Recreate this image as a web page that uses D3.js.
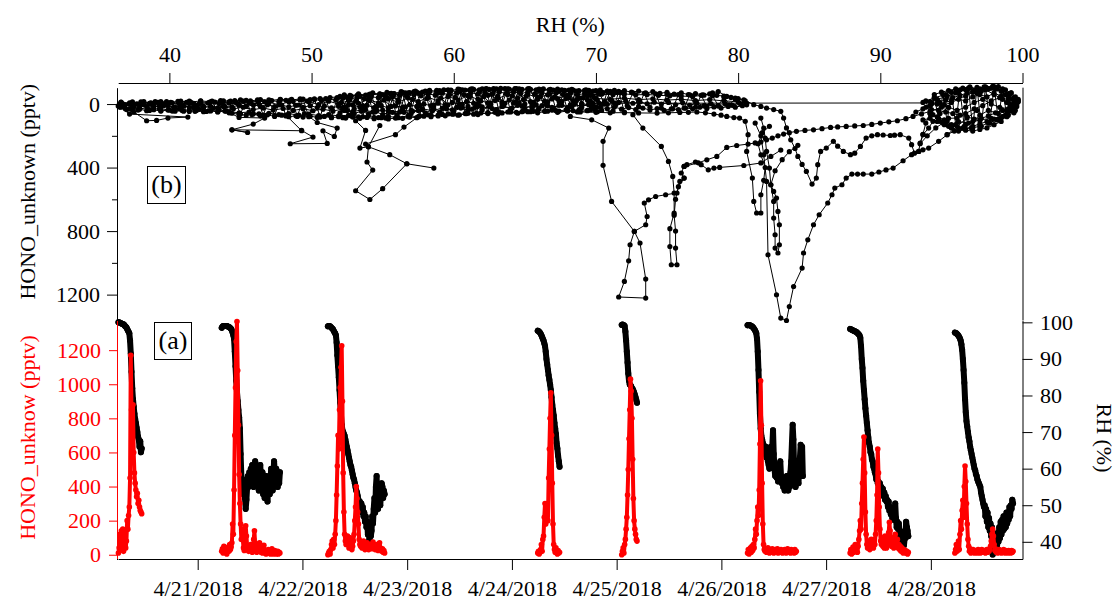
<!DOCTYPE html>
<html>
<head>
<meta charset="utf-8">
<script src="https://cdn.jsdelivr.net/npm/d3@7"></script>
<style>
  body { margin: 0; background: #fff; }
  svg { display: block; }
</style>
</head>
<body>
<svg id="chart" width="1120" height="604"></svg>
<script>
// ---------- Panel (a): 10-minute HONO_unknown and RH during each measurement period ----------
const periodStarts = ["2018-04-20T05:50", "2018-04-21T05:30", "2018-04-22T05:50", "2018-04-24T05:55",
                      "2018-04-25T01:10", "2018-04-26T06:00", "2018-04-27T05:30", "2018-04-28T05:30"];
const stepMinutes = 10;

const rh0420 = [100,100,99.9,99.8,99.7,99.6,99.5,99.5,99.3,99.0,98.8,98.6,98.2,97.8,97.4,97.0,95.0,91.5,86.5,82.0,79.0,77.0,75.0,73.6,72.5,71.2,70.0,68.7,68.0,66.0,67.5,64.5,65.5];
const hono0420 = [10,40,120,30,140,60,150,20,90,140,40,80,200,150,230,280,450,1170,850,700,880,600,480,420,380,340,360,300,320,280,260,250,240];

const rh0421 = [98.5,98.8,99,99,99,99,99,99,98.9,98.8,98.7,98.6,98.4,98.2,97.8,97.2,96.5,95.5,92,88,84,81,78.5,76,74,71,64,58,55,57,53,56,52,49,51.5,55,58,55,59,56,60,
                57,61,58,55,59,62,58,56,60,57,54,58,61,57,55,59,53,56,52,55,58,54,51,55,57,53,56,60,57,54,58,62,59,56,60,57,55,58,56,59];
const hono0421 = [20,35,10,50,45,15,25,5,30,40,20,60,30,45,70,180,120,380,700,980,1250,1368,1080,760,470,300,180,90,
                  150,90,40,25,60,170,110,50,30,20,40,25,60,30,15,20,90,140,60,25,15,30,20,45,70,30,15,25,10,35,55,20,10,5,25,15,30,20,10,5,20,35,15,5,10,25,15,5,10,20,5,15,10];

const rh0422 = [98.9,99,99,98.9,98.7,98.5,98.3,98.1,97.7,97.3,97,96.5,94.5,91,88,85,81.5,78,74.5,72,70.5,70,69.5,69,68,67,66,65,64,63,
                62,61,60.5,59.5,58.5,57.5,57,56,55,54,53.5,52.5,51.5,50,51,49,50.5,48,49.5,47,48,45.5,47,44,45.5,42,44.5,40.5,43.5,41.5,
                43,47,45,49,52,48,55,58,51,49,52,54,50,53,56,55,52,54,53];
const hono0422 = [0,10,20,5,30,60,80,40,90,60,120,200,350,520,700,620,850,980,1100,1226,900,480,250,120,80,60,90,110,70,40,
                  70,100,60,30,50,80,120,200,280,400,330,250,180,90,60,50,70,40,60,80,50,30,60,40,70,50,30,55,45,60,
                  35,50,75,40,55,30,45,60,40,25,55,70,40,30,20,35,15,25,10];

const rh0424 = [97.7,97.6,97.4,97.2,96.9,96.5,96,95.5,95,94.3,93.5,92,90,88.5,87,85.5,84.3,83,81.5,79.5,77.5,76,74.5,72.5,71,69.5,67,65.5,63.5,62,60.5];
const hono0424 = [10,20,5,15,30,60,20,90,110,220,300,180,260,300,200,450,620,800,950,700,420,180,60,30,15,40,20,5,25,10,15];

const rh0425 = [99.3,99.4,99.3,99.2,99,97.5,95,92,89,86,84,83,82.8,82.5,82,81.8,81.3,80.8,80.2,79.5,78.8,78];
const hono0425 = [0,20,40,10,60,90,150,220,350,500,680,850,1030,960,800,560,330,200,150,120,90,80];

const rh0426 = [99.2,99.3,99.3,99.2,99.1,99,98.9,98.7,98.5,98.2,97.9,97.5,97,95.5,92,87,81,75,71,69,
                68,67,66.5,65,64,66,63,65,62,61,60,63,66,63,66,70.5,64,60,58,60,
                57.5,59,56.5,58,61,62,58,56,57.5,55,56.5,54,57,55,58,56,54,57,55,59,
                62,67,72,68,60,57,55,58,61,59,56,60,63,66.5,60,66,58];
const hono0426 = [10,30,5,20,40,15,50,25,60,40,90,150,120,200,280,230,380,650,1020,760,
                  420,180,60,30,20,35,15,25,40,20,10,30,25,15,35,20,10,25,30,15,
                  20,35,10,25,20,15,30,25,10,20,15,30,25,10,20,35,15,25,20,10,
                  30,15,25,20,10,30,15,20];

const rh0427 = [98.2,98.1,98,97.9,97.8,97.7,97.6,97.5,97.4,97.3,97.1,96.9,96.7,96.4,95.8,93.5,90,87.5,84,81.5,79,
                76.5,74.5,72.5,70.5,68.5,67,66,64.5,64,62.5,62,60.5,60,59,58.5,57,58,56,56.5,55,
                56,54,55,53.5,54.5,52.5,53.5,51.5,52.5,51,51.5,49.5,51,48.5,49.5,47.5,49,46.5,48,46,
                47.5,50.5,46.5,44,45.5,43.5,45,42,43,40.5,42,39.5,40.5,39,41,41,45.5,44,43,41.5];
const hono0427 = [10,30,5,25,45,15,30,60,20,40,15,50,90,140,200,150,300,420,560,690,
                  480,250,120,60,40,80,50,30,60,90,50,70,40,90,60,120,200,350,620,480,
                  280,150,80,60,100,50,80,40,110,70,40,90,60,130,190,140,80,50,100,60,
                  40,80,120,70,50,90,40,60,30,50,20,40,25,10,30,15,25,10,20,5,15];

const rh0428 = [97.2,97.1,97,96.8,96.6,96.3,96,95.6,95,94,92.5,90,87,83.5,79,75.5,73,71.5,70,68.5,67.5,
                66,65,64,63,62,61,60,59.5,58.5,58,57,56.5,56,55.5,55,53.5,52.5,51.5,50.5,49.5,
                50,47,49,45.5,48,44,46.5,43,45,41.5,44,36.5,42,39,41.5,38.5,40.5,39,42.5,40,
                44,41,45.5,42,46,43,47,43.5,46.5,44,48,45,47.5,46,49.5,47,50,49,51.5,50.5];
const hono0428 = [10,30,60,20,40,80,30,120,200,150,260,320,220,400,520,430,300,180,90,50,
                  20,35,10,25,15,30,20,10,25,15,20,10,30,15,25,10,20,30,15,25,
                  15,25,10,20,30,15,25,20,35,50,80,120,150,110,60,25,35,15,25,10,
                  20,30,15,25,10,20,15,30,20,10,25,15,20,10,25,15,20,10,25,15,20];

const rhPeriods = [rh0420, rh0421, rh0422, rh0424, rh0425, rh0426, rh0427, rh0428];
const honoPeriods = [hono0420, hono0421, hono0422, hono0424, hono0425, hono0426, hono0427, hono0428];

// ---------- Panel (b): HONO_unknown against RH, [RH %, HONO pptv] ----------
const bandLower = [[36.5,19],[37.2,30],[37.9,25],[38.6,35],[39.3,28],[40.0,38],[40.7,30],[41.4,40],[42.1,33],[42.8,42],[43.5,36],[44.2,48],[44.9,55],[45.6,50],[46.3,62],[47.0,58],[47.7,66],[48.4,60],[49.1,70],[49.8,64],[50.5,72],[51.2,66],[51.9,75],[52.6,70],[53.3,80],[54.0,72],[54.7,85],[55.4,78],[56.1,86],[56.8,74],[57.5,80],[58.2,68],[58.9,75],[59.6,62],[60.3,70],[61.0,58],[61.7,66],[62.4,55],[63.1,62],[63.8,50],[64.5,58],[65.2,48],[65.9,55],[66.6,45],[67.3,52],[68.0,44],[68.7,50],[69.4,42],[70.1,48]];
const bandUpper = [[36.6,-10],[37.3,-5],[38.0,-14],[38.7,-8],[39.4,-16],[40.1,-10],[40.8,-18],[41.5,-12],[42.2,-20],[42.9,-14],[43.6,-22],[44.3,-18],[45.0,-26],[45.7,-20],[46.4,-28],[47.1,-22],[47.8,-30],[48.5,-25],[49.2,-32],[49.9,-28],[50.6,-35],[51.3,-40],[52.0,-48],[52.7,-55],[53.4,-50],[54.1,-62],[54.8,-58],[55.5,-66],[56.2,-60],[56.9,-72],[57.6,-68],[58.3,-78],[59.0,-72],[59.7,-84],[60.4,-78],[61.1,-88],[61.8,-82],[62.5,-92],[63.2,-86],[63.9,-94],[64.6,-88],[65.3,-92],[66.0,-84],[66.7,-90],[67.4,-82],[68.1,-88],[68.8,-80],[69.5,-86],[70.2,-78]];
const bandMidA = [[36.8,8],[37.5,15],[38.2,5],[38.9,18],[39.6,10],[40.3,20],[41.0,12],[41.7,22],[42.4,14],[43.1,25],[43.8,16],[44.5,30],[45.2,20],[45.9,35],[46.6,25],[47.3,38],[48.0,28],[48.7,40],[49.4,30],[50.1,42],[50.8,32],[51.5,45],[52.2,30],[52.9,48],[53.6,35],[54.3,50],[55.0,38],[55.7,52],[56.4,40],[57.1,45],[57.8,30],[58.5,42],[59.2,25],[59.9,36],[60.6,20],[61.3,32],[62.0,18],[62.7,28],[63.4,15],[64.1,25],[64.8,12],[65.5,22],[66.2,10],[66.9,20],[67.6,8],[68.3,18],[69.0,5],[69.7,15],[70.4,2]];
const bandMidB = [[36.5,0],[37.2,-2],[37.9,4],[38.6,-4],[39.3,2],[40.0,-6],[40.7,0],[41.4,-8],[42.1,-2],[42.8,-10],[43.5,-4],[44.2,-6],[44.9,2],[45.6,-10],[46.3,0],[47.0,-12],[47.7,5],[48.4,-14],[49.1,6],[49.8,-16],[50.5,4],[51.2,-18],[51.9,0],[52.6,-22],[53.3,-5],[54.0,-28],[54.7,-8],[55.4,-32],[56.1,-12],[56.8,-38],[57.5,-15],[58.2,-42],[58.9,-20],[59.6,-48],[60.3,-25],[61.0,-52],[61.7,-30],[62.4,-55],[63.1,-35],[63.8,-60],[64.5,-38],[65.2,-62],[65.9,-40],[66.6,-58],[67.3,-35],[68.0,-55],[68.7,-30],[69.4,-50],[70.1,-25]];
const bandMidC = [[36.7,-3],[37.2,-8],[37.7,-2],[38.2,-9],[38.7,-4],[39.2,-10],[39.7,-3],[40.2,-8],[40.7,-5],[41.2,-11],[41.7,-4],[42.2,-9],[42.7,-6],[43.2,-12],[43.7,-7],[44.2,-14],[44.7,-9],[45.2,-18],[45.7,-12],[46.2,-20],[46.7,-14],[47.2,-22],[47.7,-15],[48.2,-24],[48.7,-17],[49.2,-26],[49.7,-19],[50.2,-28],[50.7,-22],[51.2,-30],[51.7,-26],[52.2,-36],[52.7,-30],[53.2,-42],[53.7,-35],[54.2,-46],[54.7,-40],[55.2,-50],[55.7,-44],[56.2,-55],[56.7,-48],[57.2,-60],[57.7,-52],[58.2,-64],[58.7,-56],[59.2,-68],[59.7,-58],[60.2,-70],[60.7,-60],[61.2,-72],[61.7,-62],[62.2,-74],[62.7,-64],[63.2,-76],[63.7,-66],[64.2,-78],[64.7,-66],[65.2,-75],[65.7,-64],[66.2,-72],[66.7,-62],[67.2,-70],[67.7,-60],[68.2,-68],[68.7,-58],[69.2,-66],[69.7,-56],[70.2,-62]];
const bandMidD = [[36.9,30],[37.4,38],[37.9,32],[38.4,42],[38.9,36],[39.4,44],[39.9,38],[40.4,45],[40.9,40],[41.4,47],[41.9,41],[42.4,48],[42.9,43],[43.4,50],[43.9,44],[44.4,58],[44.9,64],[45.4,70],[45.9,62],[46.4,74],[46.9,68],[47.4,78],[47.9,70],[48.4,80],[48.9,74],[49.4,82],[49.9,76],[50.4,84],[50.9,78],[51.4,86],[51.9,80],[52.4,88],[52.9,82],[53.4,90],[53.9,84],[54.4,92],[54.9,86],[55.4,94],[55.9,88],[56.4,90],[56.9,82],[57.4,86],[57.9,76],[58.4,80],[58.9,70],[59.4,74],[59.9,64],[60.4,68],[60.9,60],[61.4,64],[61.9,56],[62.4,60],[62.9,52],[63.4,56],[63.9,48],[64.4,52],[64.9,44],[65.4,48],[65.9,40],[66.4,46],[66.9,38],[67.4,44],[67.9,36],[68.4,42],[68.9,34],[69.4,40],[69.9,32]];
const bandTopEdge = [[51.8,-40],[52.3,-58],[52.8,-50],[53.3,-64],[53.8,-56],[54.3,-70],[54.8,-62],[55.3,-74],[55.8,-66],[56.3,-78],[56.8,-70],[57.3,-82],[57.8,-76],[58.3,-86],[58.8,-80],[59.3,-90],[59.8,-84],[60.3,-94],[60.8,-88],[61.3,-96],[61.8,-90],[62.3,-98],[62.8,-92],[63.3,-99],[63.8,-93],[64.3,-98],[64.8,-92],[65.3,-97],[65.8,-90],[66.3,-95],[66.8,-88],[67.3,-94],[67.8,-86],[68.3,-92],[68.8,-85],[69.3,-90],[69.8,-82],[70.3,-88],[70.8,-80],[71.3,-86]];
const bandMidE = [[36.4,12],[36.9,5],[37.4,14],[37.9,8],[38.4,16],[38.9,9],[39.4,18],[39.9,10],[40.4,19],[40.9,12],[41.4,20],[41.9,13],[42.4,22],[42.9,14],[43.4,24],[43.9,15],[44.4,18],[44.9,8],[45.4,15],[45.9,5],[46.4,14],[46.9,4],[47.4,16],[47.9,6],[48.4,18],[48.9,8],[49.4,20],[49.9,10],[50.4,22],[50.9,12],[51.4,24],[51.9,14],[52.4,18],[52.9,6],[53.4,20],[53.9,8],[54.4,22],[54.9,10],[55.4,24],[55.9,12],[56.4,20],[56.9,5],[57.4,15],[57.9,0],[58.4,10],[58.9,-5],[59.4,5],[59.9,-10],[60.4,0],[60.9,-15],[61.4,-5],[61.9,-20],[62.4,-8],[62.9,-22],[63.4,-10],[63.9,-25],[64.4,-12],[64.9,-28],[65.4,-15],[65.9,-30],[66.4,-18],[66.9,-32],[67.4,-20],[67.9,-35],[68.4,-22],[68.9,-38],[69.4,-25],[69.9,-40]];
const bandMidF = [[52.1,-10],[52.6,5],[53.1,-18],[53.6,10],[54.1,-22],[54.6,12],[55.1,-25],[55.6,15],[56.1,-28],[56.6,18],[57.1,-30],[57.6,10],[58.1,-35],[58.6,8],[59.1,-38],[59.6,5],[60.1,-42],[60.6,2],[61.1,-45],[61.6,0],[62.1,-48],[62.6,-2],[63.1,-50],[63.6,-5],[64.1,-52],[64.6,-8],[65.1,-50],[65.6,-10],[66.1,-48],[66.6,-12],[67.1,-45],[67.6,-15],[68.1,-42],[68.6,-18],[69.1,-40],[69.6,-20]];
const bandMidG = [[52.0,55],[52.5,40],[53.0,60],[53.5,45],[54.0,62],[54.5,48],[55.0,66],[55.5,50],[56.0,68],[56.5,52],[57.0,60],[57.5,40],[58.0,55],[58.5,35],[59.0,50],[59.5,30],[60.0,45],[60.5,25],[61.0,40],[61.5,20],[62.0,38],[62.5,15],[63.0,35],[63.5,12],[64.0,32],[64.5,8],[65.0,30],[65.5,5],[66.0,28],[66.5,2],[67.0,25],[67.5,0],[68.0,22],[68.5,-2],[69.0,20],[69.5,-5],[70.0,18]];
const bandSwingA = [[52.2,20],[52.6,-40],[53.0,30],[53.4,-50],[53.8,35],[54.2,-55],[54.6,40],[55.0,-60],[55.4,45],[55.8,-65],[56.2,50],[56.6,-70],[57.0,40],[57.4,-75],[57.8,35],[58.2,-80],[58.6,30],[59.0,-85],[59.4,25],[59.8,-88],[60.2,20],[60.6,-90],[61.0,15],[61.4,-92],[61.8,10],[62.2,-94],[62.6,5],[63.0,-95],[63.4,0],[63.8,-96],[64.2,-5],[64.6,-95],[65.0,0],[65.4,-93],[65.8,5],[66.2,-90],[66.6,10],[67.0,-88],[67.4,8],[67.8,-85],[68.2,5],[68.6,-82],[69.0,0],[69.4,-80],[69.8,-5],[70.2,-78],[70.6,0],[71.0,-75],[71.4,5],[71.8,-72],[72.2,10],[72.6,-70],[73.0,15],[73.4,-68],[73.8,20],[74.2,-65],[74.6,25],[75.0,-62],[75.4,30],[75.8,-60],[76.2,25],[76.6,-58],[77.0,20],[77.4,-55],[77.8,15],[78.2,-52],[78.6,10],[79.0,-45],[79.4,5],[79.8,-35],[80.2,0]];
const bandSwingB = [[36.6,-12],[37.0,35],[37.4,-14],[37.8,38],[38.2,-15],[38.6,40],[39.0,-16],[39.4,42],[39.8,-16],[40.2,44],[40.6,-17],[41.0,45],[41.4,-18],[41.8,46],[42.2,-18],[42.6,47],[43.0,-19],[43.4,48],[43.8,-20],[44.2,55],[44.6,-22],[45.0,62],[45.4,-24],[45.8,66],[46.2,-26],[46.6,70],[47.0,-27],[47.4,72],[47.8,-28],[48.2,75],[48.6,-30],[49.0,78],[49.4,-31],[49.8,80],[50.2,-32],[50.6,82],[51.0,-34],[51.4,84],[51.8,-36],[52.2,86]];
const bandSwingC = [[52.4,-45],[52.8,75],[53.2,-55],[53.6,80],[54.0,-58],[54.4,85],[54.8,-64],[55.2,88],[55.6,-68],[56.0,85],[56.4,-74],[56.8,80],[57.2,-78],[57.6,75],[58.0,-82],[58.4,70],[58.8,-86],[59.2,65],[59.6,-90],[60.0,62],[60.4,-92],[60.8,60],[61.2,-94],[61.6,58],[62.0,-96],[62.4,55],[62.8,-97],[63.2,52],[63.6,-98],[64.0,50],[64.4,-97],[64.8,48],[65.2,-96],[65.6,46],[66.0,-94],[66.4,44],[66.8,-92],[67.2,42],[67.6,-90],[68.0,40],[68.4,-88],[68.8,38],[69.2,-86],[69.6,36],[70.0,-84],[70.4,40],[70.8,-82],[71.2,45],[71.6,-80],[72.0,50]];
const bandRH75a = [[70.5,-70],[71.0,-80],[71.5,-72],[72.0,-84],[72.5,-75],[73.0,-82],[73.5,-70],[74.0,-78],[74.5,-68],[75.0,-74],[75.5,-62],[76.0,-70],[76.5,-60],[77.0,-66],[77.5,-58],[78.0,-64],[78.5,-55],[79.0,-50],[79.5,-42],[80.0,-35],[80.5,-20]];
const bandRH75b = [[70.3,20],[70.8,30],[71.3,18],[71.8,32],[72.3,22],[72.8,35],[73.3,25],[73.8,38],[74.3,28],[74.8,40],[75.3,30],[75.8,35],[76.3,25],[76.8,30],[77.3,20],[77.8,28],[78.3,18],[78.8,25],[79.3,15],[79.8,20],[80.3,10]];
const bandRH75c = [[70.6,-15],[71.1,-22],[71.6,-10],[72.1,-18],[72.6,-5],[73.1,-14],[73.6,-2],[74.1,-12],[74.6,0],[75.1,-10],[75.6,5],[76.1,-8],[76.6,8],[77.1,-5],[77.6,10],[78.1,-2],[78.6,12],[79.1,0],[79.6,8],[80.1,-5],[80.6,5]];
const loopRH38 = [[36.6,20],[37.2,63],[41.3,82],[39.9,88],[39.1,103],[38.4,105],[37.5,50]];
const loopRH46 = [[44.0,45],[44.9,84],[46.7,88],[45.9,126],[44.4,162],[45.5,179],[44.4,162],[49.3,168],[48.2,70]];
const loopRH50 = [[49.3,166],[50.1,208],[48.5,250],[51.1,248],[50.8,168],[51.6,204],[51.8,151],[50.4,116],[49.5,60]];
const loopRH54 = [[52.3,40],[53.1,105],[53.8,166],[53.4,277],[54.0,269],[53.9,365],[54.3,416],[53.1,546],[54.1,601],[55.0,533],[56.7,376],[58.6,403]];
const loopRH55 = [[54.8,135],[54.0,269],[55.5,319],[56.7,376]];
const loopRH56 = [[53.8,252],[55.9,193],[56.5,145],[57.5,80]];
const trackTop = [[69.6,-59],[70.4,-62],[71.2,-59],[72.0,-64],[72.8,-58],[73.6,-60],[74.4,-55],[75.2,-52],[76.0,-50],[76.8,-48],[77.6,-56],[78.2,-70],[78.6,-79],[79.2,-48],[79.8,-38],[80.4,-27],[81.1,4],[81.6,15],[82.0,25],[82.5,35],[83.0,46],[83.2,88],[83.4,150],[83.7,225],[84.0,280],[84.2,330],[84.5,380],[84.8,424],[85.2,504],[85.5,466],[85.6,382],[85.8,298],[86.2,277],[86.7,235],[87.0,265],[87.4,298],[87.9,319],[88.2,309],[88.6,267],[89.0,214],[89.4,200],[89.8,193],[90.2,195],[90.7,198],[91.0,196],[91.4,193],[92.0,214],[92.2,256],[92.4,309],[92.7,298],[92.8,246],[93.0,193],[93.4,151],[93.7,109],[94.2,60],[94.8,20]];
const trackMid = [[70.0,-35],[71.0,-30],[72.0,-38],[73.0,-28],[74.0,-33],[75.0,-25],[76.0,-30],[77.0,-22],[78.0,-28],[79.0,-20],[80.0,-15],[80.6,-5]];
const trackZero = [[69.0,-3],[69.5,5],[70.2,-8],[70.8,2],[71.3,-5],[93.6,-7]];
const trackLow = [[68.9,50],[70.0,52],[71.0,55],[72.0,54],[73.0,56],[74.3,57],[75.1,55],[75.9,53],[76.5,52],[77.1,50],[77.7,55],[78.3,63],[78.8,70],[79.2,78],[79.7,85],[80.1,88],[80.5,109],[80.7,193],[80.6,298],[81.0,466],[81.1,613],[81.3,686],[81.6,686],[81.6,571],[81.8,480],[81.9,400],[81.6,320],[81.4,250],[81.7,180],[82.2,140]];
const dipRH72 = [[68.2,78],[69.7,99],[70.9,151],[70.5,235],[70.5,386],[71.1,613],[72.7,802],[72.4,886],[72.3,987],[72.0,1117],[71.6,1215],[73.5,1222],[73.5,1102],[73.1,875],[72.7,802],[73.5,760],[73.6,708],[73.4,623],[73.7,603],[74.2,582],[74.9,571],[75.7,560],[75.9,487],[76.2,466],[76.0,434],[76.2,393],[76.4,382],[77.0,365],[77.4,382],[77.9,414],[78.3,403],[78.7,399],[80.4,387],[81.6,371],[82.3,330],[83.0,290]];
const dipRH75 = [[72.6,67],[73.3,151],[74.6,267],[75.1,361],[75.4,456],[75.5,560],[75.5,687],[75.2,785],[75.2,897],[75.3,1012],[75.7,1012],[75.6,907],[75.6,800],[75.5,700],[75.6,600],[75.8,520],[76.2,466]];
const riseUpper = [[76.2,393],[77.2,370],[77.8,351],[78.5,330],[79.2,273],[79.9,261],[80.7,252],[81.2,245],[81.6,239],[82.0,225],[82.4,214],[82.8,200],[83.2,189],[83.6,180],[84.1,172],[84.7,166],[85.3,162],[85.9,155],[86.5,147],[87.0,144],[87.6,141],[88.2,138],[88.8,135],[89.4,128],[90.0,120],[90.6,112],[91.2,105],[91.8,92],[92.3,78],[92.9,62],[93.5,46],[94.3,20]];
const dipRH82 = [[81.6,88],[81.8,151],[81.9,214],[82.0,298],[82.2,403],[82.3,508],[82.5,613],[82.5,718],[82.6,823],[82.6,907],[82.8,938],[82.9,886],[82.9,760],[82.8,676],[82.7,592],[82.5,550],[82.3,508],[82.6,420],[83.1,350],[83.6,300],[84.2,260]];
const dipRH83 = [[81.2,120],[81.6,200],[81.8,320],[82.0,487],[82.1,949],[82.7,1201],[83.0,1348],[83.4,1363],[83.6,1275],[83.9,1149],[84.5,1033],[84.6,938],[84.9,855],[85.3,760],[85.7,697],[86.3,623],[86.6,571],[86.8,529],[87.3,508],[87.6,466],[88.0,441],[88.4,441],[88.8,441],[89.4,441],[89.9,428],[90.4,415],[90.9,403],[91.6,357],[92.2,319],[92.7,298],[93.0,288],[93.4,277],[94.1,235],[94.7,193],[95.4,141],[96.1,88],[96.8,40]];
const loopRH93 = [[93.5,60],[93.2,120],[93.0,190],[92.8,250],[93.3,200],[93.9,150],[94.4,120],[95.0,140]];
const humidA = [[93.5,-16],[94.0,-30],[94.7,-48],[95.3,-70],[96.3,-101],[97.0,-95],[97.9,-111],[98.5,-80],[99.0,-40],[99.4,-6],[98.9,46],[98.2,99],[97.6,120],[97.0,141],[96.4,150],[95.8,151],[95.2,170],[94.7,193]];
const humidB = [[93.7,67],[94.2,109],[94.8,90],[95.4,88],[96.0,60],[96.6,30],[97.2,10],[97.8,-20],[98.4,-40],[98.9,-10],[99.3,20],[98.8,70],[98.3,60],[97.6,40],[97.0,70],[96.5,110],[96.0,130]];
const humidC = [[93.0,-10],[93.8,-40],[94.6,-60],[95.5,-75],[96.0,-90],[96.8,-70],[97.4,-90],[98.0,-60],[98.6,-30],[99.1,0],[99.5,-20],[99.0,30],[98.4,20],[97.8,0],[97.2,-30],[96.6,-10],[96.0,20],[95.4,40],[94.8,20],[94.2,-5]];
const humidD = [[94.0,0],[95.0,-20],[96.0,-50],[96.5,-75],[97.5,-100],[98.2,-95],[98.8,-60],[99.3,-30],[99.6,0],[99.2,40],[98.6,80],[97.8,90],[97.0,100],[96.2,120],[95.5,110],[94.8,140]];
const humidE = [[93.2,20],[93.6,0],[94.1,-15],[94.6,-25],[95.1,-40],[95.6,-55],[96.1,-70],[96.6,-85],[97.1,-80],[97.6,-95],[98.1,-100],[98.6,-85],[99.0,-65],[99.4,-40],[99.7,-15],[99.5,10],[99.1,25],[98.6,40],[98.1,55],[97.6,75],[97.1,90],[96.6,95],[96.1,80],[95.6,70],[95.1,60],[94.6,50],[94.1,40],[93.6,35]];
const humidF = [[92.5,50],[93.0,30],[93.5,10],[94.0,-5],[94.5,5],[95.0,-10],[95.5,-30],[96.0,-20],[96.5,-45],[97.0,-60],[97.5,-45],[98.0,-70],[98.5,-50],[99.0,-20],[99.3,5],[99.0,50],[98.5,110],[98.0,130],[97.5,150],[97.0,160],[96.5,170],[96.0,165],[95.5,150],[95.0,130],[94.5,100],[94.0,80]];
const humidG = [[93.8,-60],[94.3,-75],[94.8,-85],[95.3,-95],[95.8,-100],[96.3,-108],[96.8,-95],[97.3,-108],[97.8,-100],[98.3,-110],[98.8,-90],[99.2,-70],[99.5,-45],[99.7,-20],[99.6,15],[99.3,35]];
const humidH = [[93.0,100],[93.5,90],[94.0,110],[94.5,130],[95.0,150],[95.5,170],[96.0,160],[96.5,140],[97.0,125],[97.5,110],[98.0,95],[98.5,85],[99.0,70],[99.4,55]];
const humidZ = [[93.2,-20],[93.5,60],[93.8,-40],[94.1,90],[94.4,-60],[94.7,110],[95.0,-75],[95.3,130],[95.6,-90],[95.9,140],[96.2,-100],[96.5,150],[96.8,-105],[97.1,140],[97.4,-108],[97.7,120],[98.0,-110],[98.3,100],[98.6,-95],[98.9,80],[99.2,-70],[99.5,40],[99.7,-30]];

const tracesB = [bandLower, bandUpper, bandMidA, bandMidB, bandMidC, bandMidD, bandTopEdge, bandMidE, bandMidF, bandMidG,
                 bandSwingA, bandSwingB, bandSwingC, bandRH75a, bandRH75b, bandRH75c,
                 loopRH38, loopRH46, loopRH50, loopRH54, loopRH55, loopRH56,
                 trackTop, trackMid, trackZero, trackLow, dipRH72, dipRH75, riseUpper, dipRH82, dipRH83, loopRH93,
                 humidA, humidB, humidC, humidD, humidE, humidF, humidG, humidH, humidZ];

// ---------- Tick values ----------
const rhTicksTop = [40, 50, 60, 70, 80, 90, 100];
const honoTicksB = [0, 400, 800, 1200];
const honoMinorB = [200, 600, 1000];
const honoTicksA = [0, 200, 400, 600, 800, 1000, 1200];
const rhTicksRight = [40, 50, 60, 70, 80, 90, 100];

// ---------- Layout ----------
const FONT = "'Liberation Serif', 'Times New Roman', serif";
const RED = "#ff0000";
const left = 117, right = 1022.5, dataLeft = 118.2;
const topB = 87.7, split = 320.5, bottomA = 559;

const svg = d3.select("#chart");
const parse = d3.timeParse("%Y-%m-%dT%H:%M");
const intFmt = d3.format("d");

// Scales
const xRH = d3.scaleLinear().domain([36.4, 100]).range([dataLeft, right]);
const yB = d3.scaleLinear().domain([-103, 1363]).range([topB, split]);
const xT = d3.scaleTime().domain([parse("2018-04-20T05:47"), parse("2018-04-28T21:00")]).range([dataLeft, right]);
const yHono = d3.scaleLinear().domain([-25, 1374]).range([bottomA, split]);
const yRH = d3.scaleLinear().domain([35.3, 100.5]).range([bottomA, split]);

function styleAxis(g, color) {
  g.attr("font-size", 22).attr("font-family", FONT);
  g.selectAll(".domain").attr("stroke", color).attr("stroke-width", 1);
  g.selectAll(".tick line").attr("stroke", color).attr("stroke-width", 1);
  g.selectAll(".tick text").attr("fill", color);
}

// ---------- Panel (b) ----------
const lineB = d3.line().x(d => xRH(d[0])).y(d => yB(d[1]));
const gB = svg.append("g");
tracesB.forEach(tr => {
  gB.append("path").attr("d", lineB(tr)).attr("fill", "none").attr("stroke", "#000").attr("stroke-width", 1);
});
tracesB.forEach(tr => {
  gB.selectAll(null).data(tr).enter().append("circle")
    .attr("cx", d => xRH(d[0])).attr("cy", d => yB(d[1])).attr("r", 2.6).attr("fill", "#000");
});

// ---------- Panel (a) ----------
const stepMs = stepMinutes * 60000;
function toSeries(values, start) {
  const t0 = parse(start).getTime();
  return values.map((v, i) => ({ t: new Date(t0 + i * stepMs), v }));
}
function drawSeries(g, pts, yScale, color, width, r) {
  const ln = d3.line().x(d => xT(d.t)).y(d => yScale(d.v));
  g.append("path").attr("d", ln(pts)).attr("fill", "none").attr("stroke", color)
    .attr("stroke-width", width).attr("stroke-linejoin", "round").attr("stroke-linecap", "round");
  g.selectAll(null).data(pts).enter().append("circle")
    .attr("cx", d => xT(d.t)).attr("cy", d => yScale(d.v)).attr("r", r).attr("fill", color);
}
const gA = svg.append("g");
periodStarts.forEach((s, k) => drawSeries(gA, toSeries(rhPeriods[k], s), yRH, "#000", 6, 3));
periodStarts.forEach((s, k) => drawSeries(gA, toSeries(honoPeriods[k], s), yHono, RED, 4, 2.8));

// ---------- Axes ----------
// Top RH axis of panel (b)
const axTop = svg.append("g").attr("transform", "translate(0,83)")
  .call(d3.axisTop(xRH).tickValues(rhTicksTop).tickSize(10).tickPadding(11).tickSizeOuter(0));
styleAxis(axTop, "#000");

// Left HONO axis of panel (b), increasing downward
const axLeftB = svg.append("g").attr("transform", `translate(${left},0)`)
  .call(d3.axisLeft(yB).tickValues(honoTicksB).tickFormat(intFmt).tickSize(10).tickPadding(7).tickSizeOuter(0));
styleAxis(axLeftB, "#000");
axLeftB.selectAll(null).data(honoMinorB).enter().append("line")
  .attr("x1", -5).attr("x2", 0).attr("y1", d => yB(d) + 0.5).attr("y2", d => yB(d) + 0.5)
  .attr("stroke", "#000");

// Left HONO axis of panel (a)
const axLeftA = svg.append("g").attr("transform", `translate(${left},0)`)
  .call(d3.axisLeft(yHono).tickValues(honoTicksA).tickFormat(intFmt).tickSize(8).tickPadding(8).tickSizeOuter(0));
styleAxis(axLeftA, RED);

// Bottom date axis
const axBottom = svg.append("g").attr("transform", `translate(0,${bottomA})`)
  .call(d3.axisBottom(xT).ticks(d3.timeDay.every(1)).tickFormat(d3.timeFormat("%-m/%-d/%Y"))
        .tickSize(11).tickPadding(10).tickSizeOuter(0));
styleAxis(axBottom, "#000");
svg.append("line").attr("x1", left).attr("x2", dataLeft).attr("y1", bottomA + 0.5).attr("y2", bottomA + 0.5).attr("stroke", "#000");

// Right RH axis of panel (a); the frame line continues up through panel (b)
const axRight = svg.append("g").attr("transform", `translate(${right},0)`)
  .call(d3.axisRight(yRH).tickValues(rhTicksRight).tickSize(10).tickPadding(7.5).tickSizeOuter(0));
styleAxis(axRight, "#000");
svg.append("line").attr("x1", right + 0.5).attr("x2", right + 0.5).attr("y1", topB).attr("y2", split)
  .attr("stroke", "#000");

// ---------- Titles ----------
const txt = (x, y, s, opts = {}) => svg.append("text").attr("x", x).attr("y", y).text(s)
  .attr("font-family", FONT).attr("font-size", opts.size || 22).attr("fill", opts.fill || "#000")
  .attr("text-anchor", opts.anchor || "middle").attr("transform", opts.transform || null);

txt(570.3, 31.7, "RH (%)");
txt(0, 0, "HONO_unknown (pptv)", { transform: "translate(35,191.7) rotate(-90)" });
txt(0, 0, "HONO_unknow (pptv)", { fill: RED, transform: "translate(35,437.5) rotate(-90)" });
txt(0, 0, "RH (%)", { transform: "translate(1097,438) rotate(90)" });

// Panel tags
svg.append("rect").attr("x", 147.5).attr("y", 166.5).attr("width", 38).attr("height", 37)
  .attr("fill", "none").attr("stroke", "#000").attr("stroke-width", 1);
txt(166.5, 193, "(b)", { size: 26 });
svg.append("rect").attr("x", 154.5).attr("y", 322.5).attr("width", 37).attr("height", 37)
  .attr("fill", "none").attr("stroke", "#000").attr("stroke-width", 1);
txt(173, 348.7, "(a)", { size: 26 });
</script>
</body>
</html>
